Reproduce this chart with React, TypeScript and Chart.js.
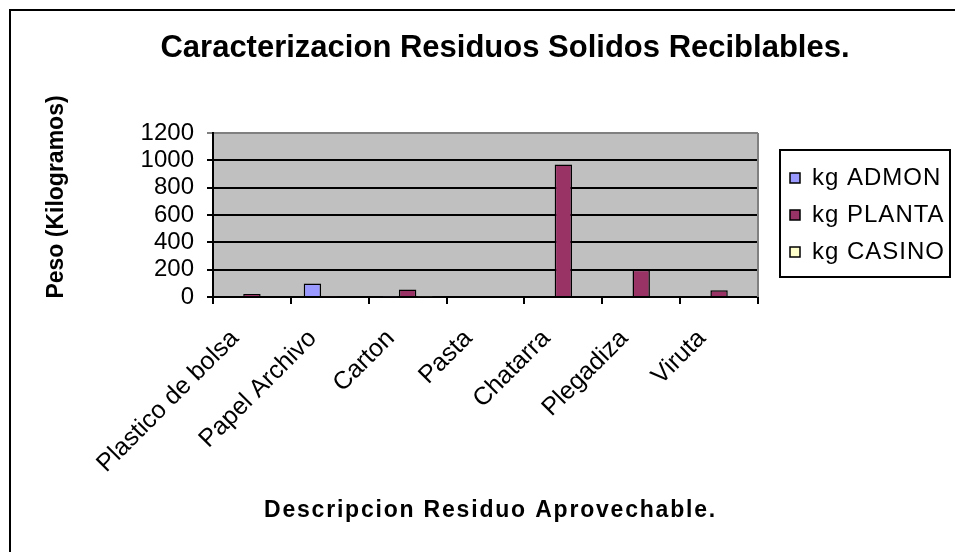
import React, { useEffect, useRef } from 'react';
import { Chart, registerables } from 'chart.js';

Chart.register(...registerables);

const categories = ['Plastico de bolsa', 'Papel Archivo', 'Carton', 'Pasta', 'Chatarra', 'Plegadiza', 'Viruta'];
const seriesNames = ['kg ADMON', 'kg PLANTA', 'kg CASINO'];
const kgAdmon = [0, 98, 5, 0, 0, 0, 0];
const kgPlanta = [22, 5, 54, 0, 970, 200, 50];
const kgCasino = [6, 0, 5, 0, 0, 0, 0];
const seriesColors = ['#9999FF', '#993366', '#FFFFCC'];
const yMin = 0;
const yMax = 1200;
const yStep = 200;
const titleText = 'Caracterizacion Residuos Solidos Reciblables.';
const yTitleText = 'Peso (Kilogramos)';
const xTitleText = 'Descripcion Residuo Aprovechable.';

const FONT = "'Liberation Sans', Arial, sans-serif";
const W = 955;
const H = 552;

const decorPlugin = {
  id: 'decor',
  beforeLayout(chart: any) {
    const lg = chart.legend;
    if (lg && !lg.__fixed) {
      const origFit = lg.fit.bind(lg);
      lg.fit = () => {
        origFit();
        lg.width = 197;
      };
      const origDraw = lg.draw.bind(lg);
      lg.draw = () => {
        const ctx = lg.ctx;
        const prev = ctx.letterSpacing;
        ctx.letterSpacing = '1px';
        origDraw();
        ctx.letterSpacing = prev || '0px';
      };
      lg.__fixed = true;
    }
  },
  afterLayout(chart: any) {
    const lg = chart.legend;
    if (lg) {
      lg.left += 19;
      lg.right += 19;
    }
  },
  beforeDraw(chart: any) {
    const { ctx, chartArea } = chart;
    const { left, top, right, bottom } = chartArea;
    ctx.save();
    ctx.fillStyle = '#ffffff';
    ctx.fillRect(0, 0, chart.width, chart.height);
    ctx.fillStyle = '#000000';
    ctx.fillRect(9, 9, chart.width, 2);
    ctx.fillRect(9, 9, 2, chart.height);
    ctx.fillStyle = '#C0C0C0';
    ctx.fillRect(left, top, right - left, bottom - top);
    ctx.restore();
  },
  afterDraw(chart: any) {
    const { ctx, chartArea } = chart;
    const { left, top, right, bottom } = chartArea;
    ctx.save();
    // right frame of plot area
    ctx.strokeStyle = '#808080';
    ctx.lineWidth = 2;
    ctx.beginPath();
    ctx.moveTo(right, top);
    ctx.lineTo(right, bottom);
    ctx.stroke();
    // legend frame
    const lg = chart.legend;
    if (lg && lg.legendHitBoxes && lg.legendHitBoxes.length) {
      const hbs = lg.legendHitBoxes;
      const l = Math.min(...hbs.map((h: any) => h.left)) - 10;
      const t = hbs[0].top - 16;
      const last = hbs[hbs.length - 1];
      const b = last.top + last.height + 13;
      const r = chart.width - 5;
      ctx.strokeStyle = '#000000';
      ctx.lineWidth = 2;
      ctx.strokeRect(Math.round(l), Math.round(t), Math.round(r - l), Math.round(b - t));
    }
    ctx.fillStyle = '#000000';
    // x axis title
    ctx.save();
    ctx.font = `bold 23px ${FONT}`;
    (ctx as any).letterSpacing = '1.8px';
    ctx.textAlign = 'center';
    ctx.textBaseline = 'middle';
    ctx.fillText(xTitleText, (left + right) / 2 + 5, 511);
    ctx.restore();
    // y axis title
    ctx.font = `bold 23px ${FONT}`;
    ctx.textAlign = 'center';
    ctx.textBaseline = 'middle';
    ctx.translate(57, 197);
    ctx.rotate(-Math.PI / 2);
    ctx.fillText(yTitleText, 0, 0);
    ctx.restore();
  },
};

export default function App() {
  const ref = useRef<HTMLCanvasElement | null>(null);

  useEffect(() => {
    if (!ref.current) return;
    const datasets = [kgAdmon, kgPlanta, kgCasino].map((data, i) => ({
      label: seriesNames[i],
      data,
      backgroundColor: seriesColors[i],
      borderColor: '#000000',
      borderWidth: 1.5,
      categoryPercentage: 0.67,
      barPercentage: 1,
    }));
    const chart = new Chart(ref.current, {
      type: 'bar',
      data: { labels: categories, datasets },
      plugins: [decorPlugin],
      options: {
        responsive: false,
        animation: false,
        devicePixelRatio: 1,
        events: [],
        layout: { padding: { left: 55, right: 0, top: 0, bottom: 0 } },
        plugins: {
          title: {
            display: true,
            text: titleText,
            color: '#000000',
            font: { family: FONT, size: 31, weight: 'bold' },
            padding: { top: 30, bottom: 65.8 },
          },
          legend: {
            display: true,
            position: 'right',
            fullSize: false,
            labels: {
              boxWidth: 10,
              boxHeight: 10,
              padding: 13,
              color: '#000000',
              font: { family: FONT, size: 24 },
            },
          },
          tooltip: { enabled: false },
        },
        scales: {
          x: {
            offset: true,
            grid: {
              display: true,
              offset: true,
              drawOnChartArea: false,
              drawTicks: true,
              tickLength: 7,
              color: '#000000',
              lineWidth: 2,
            },
            border: { display: true, color: '#000000', width: 2 },
            ticks: {
              autoSkip: false,
              maxRotation: 45,
              minRotation: 45,
              padding: 20,
              labelOffset: -17,
              color: '#000000',
              font: { family: FONT, size: 25 },
            },
            title: { display: false },
            afterFit: (scale: any) => {
              scale.height = 255;
            },
          },
          y: {
            min: yMin,
            max: yMax,
            ticks: {
              stepSize: yStep,
              autoSkip: false,
              padding: 13,
              color: '#000000',
              font: { family: FONT, size: 24 },
              callback: (v: any) => String(v),
            },
            grid: {
              display: true,
              drawTicks: true,
              tickLength: 6,
              lineWidth: 2,
              color: (c: any) => (c.tick && c.tick.value === yMax ? '#808080' : '#000000'),
            },
            border: { display: true, color: '#000000', width: 2 },
            afterFit: (scale: any) => {
              scale.width = 158;
            },
          },
        },
      } as any,
    });
    return () => chart.destroy();
  }, []);

  return (
    <div style={{ position: 'absolute', left: 0, top: 0, width: W, height: H }}>
      <canvas ref={ref} width={W} height={H} style={{ display: 'block', width: W, height: H }} />
    </div>
  );
}
